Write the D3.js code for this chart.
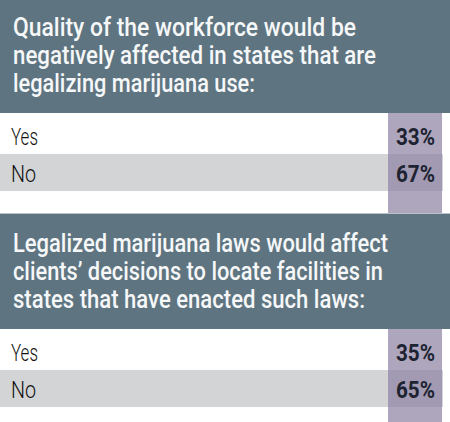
<!DOCTYPE html>
<html><head><meta charset="utf-8">
<script src="https://cdn.jsdelivr.net/npm/d3@7"></script>
<style>html,body{margin:0;padding:0;background:#fff;overflow:hidden}</style>
</head><body>
<script>
// ---- data ----
const questionLines = [
  ["Quality of the workforce would be", "negatively affected in states that are", "legalizing marijuana use:"],
  ["Legalized marijuana laws would affect", "clients’ decisions to locate facilities in", "states that have enacted such laws:"]
];
const answers = ["Yes", "No"];
const workforceValues = [33, 67];
const clientValues = [35, 65];
const seriesValues = [workforceValues, clientValues];

// ---- layout ----
const W = 450, H = 422;
const panelTop = [-3, 213];
const headerH = 116;
const panelH = 216;
const lineBaselines = [39, 67, 95];
const lineWidths = [[343, 363, 242], [375, 370, 352]];
const colX0 = 388, colX1 = 442;

const svg = d3.select("body").append("svg").attr("width", W).attr("height", H);

const y = d3.scaleOrdinal().domain(answers).range([116, 157]);
const rowHeight = d3.scaleOrdinal().domain(answers).range([41, 37]);
const rowFill = d3.scaleOrdinal().domain(answers).range(["#ffffff", "#d3d4d6"]);

questionLines.forEach((lines, p) => {
  const g = svg.append("g").attr("transform", `translate(0,${panelTop[p]})`);
  const vals = seriesValues[p];
  const rows = answers.map((a, i) => ({answer: a, value: vals[i]}));

  // header
  g.append("rect").attr("x", 0).attr("y", 0).attr("width", W).attr("height", headerH).attr("fill", "#5e7480");
  g.append("rect").attr("x", 0).attr("y", 0).attr("width", W).attr("height", 1).attr("fill", "#b9c2c8");

  // rows
  g.selectAll("rect.row").data(rows).join("rect").attr("class", "row")
    .attr("x", 0).attr("width", colX1 + 1)
    .attr("y", d => y(d.answer)).attr("height", d => rowHeight(d.answer))
    .attr("fill", d => rowFill(d.answer));

  // highlighted percent column
  g.append("rect").attr("x", colX0).attr("y", headerH).attr("width", colX1 - colX0)
    .attr("height", panelH - headerH).attr("fill", "#8e84a3").attr("fill-opacity", 0.72);

  // header text
  g.selectAll("text.q").data(lines).join("text").attr("class", "q")
    .attr("x", 13).attr("y", (d, i) => lineBaselines[i])
    .attr("textLength", (d, i) => lineWidths[p][i]).attr("lengthAdjust", "spacingAndGlyphs")
    .attr("font-family", "Roboto, 'Open Sans', sans-serif").attr("font-weight", 500)
    .attr("font-size", 25.5).attr("fill", "#f5f7f8").text(d => d);

  // answer labels
  g.selectAll("text.a").data(rows).join("text").attr("class", "a")
    .attr("x", 11).attr("y", d => y(d.answer) + rowHeight(d.answer) - 9.5)
    .attr("textLength", d => d.answer === "Yes" ? 27 : 25).attr("lengthAdjust", "spacingAndGlyphs")
    .attr("font-family", "Roboto, 'Open Sans', sans-serif").attr("font-weight", 300)
    .attr("font-size", 23.5).attr("fill", "#111111").text(d => d.answer);

  // percent values
  g.selectAll("text.v").data(rows).join("text").attr("class", "v")
    .attr("x", 435).attr("y", d => y(d.answer) + rowHeight(d.answer) - 9.5)
    .attr("text-anchor", "end")
    .attr("textLength", 39).attr("lengthAdjust", "spacingAndGlyphs")
    .attr("font-family", "Roboto, 'Open Sans', sans-serif").attr("font-weight", 700)
    .attr("font-size", 23).attr("fill", "#1d2331").text(d => d.value + "%");
});
</script>
</body></html>
